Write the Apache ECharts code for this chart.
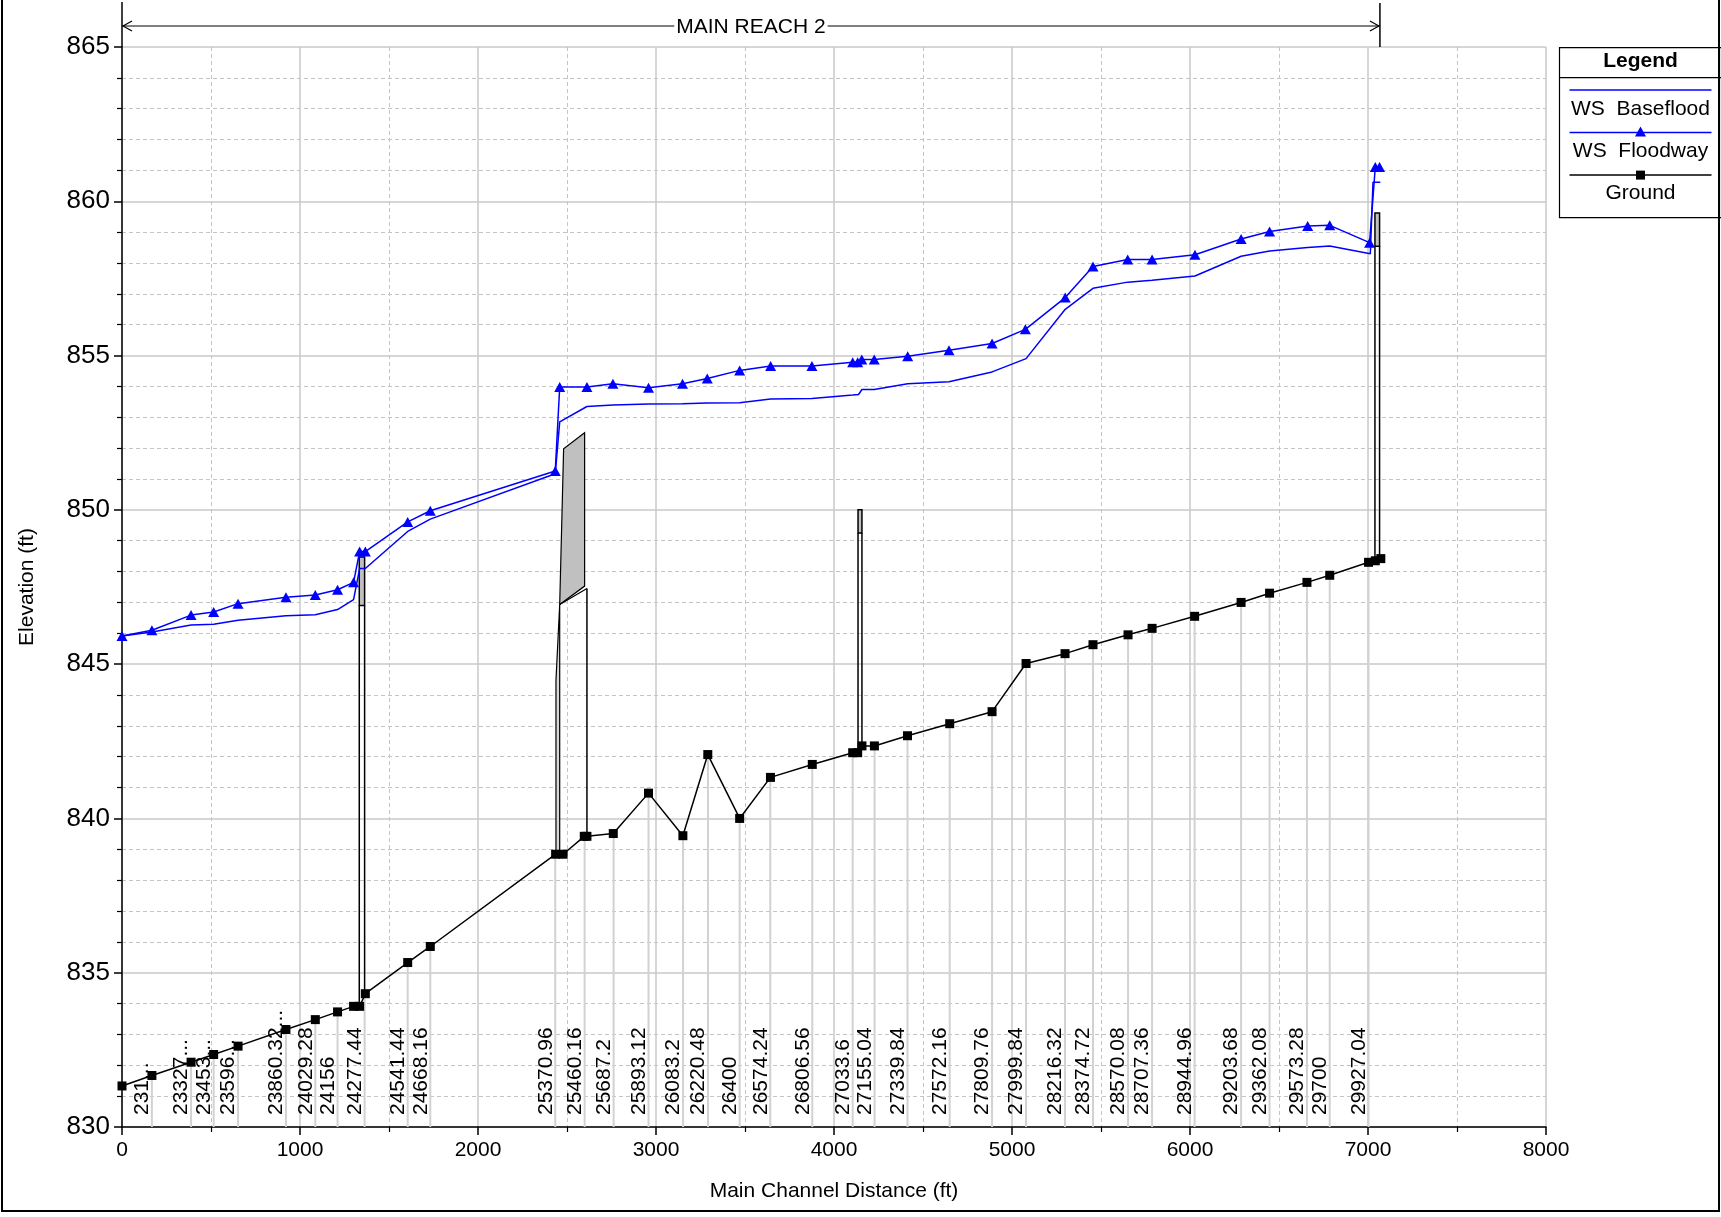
<!DOCTYPE html>
<html><head><meta charset="utf-8">
<script src="https://cdn.jsdelivr.net/npm/echarts@6/dist/echarts.min.js"></script>
<style>html,body{margin:0;padding:0;background:#fff}#c{width:1721px;height:1217px}</style>
</head><body><div id="c"></div>
<script>
const FONT = 'Liberation Sans, Arial, Helvetica, sans-serif';

// River stations (main channel distance, ft) and their labels
const stationX = [168, 388, 515, 652, 921, 1086, 1211, 1363, 1605, 1732, 2434, 2599, 2762, 2958, 3152, 3292, 3470, 3642, 3878, 4105, 4228, 4413, 4650, 4888, 5079, 5298, 5455, 5652, 5787, 6026, 6287, 6447, 6657, 6785, 7003];
const stationLabels = ['231...', '23327...', '23453...', '23596...', '23860.32...', '24029.28', '24156', '24277.44', '24541.44', '24668.16', '25370.96', '25460.16', '25687.2', '25893.12', '26083.2', '26220.48', '26400', '26574.24', '26806.56', '27033.6', '27155.04', '27339.84', '27572.16', '27809.76', '27999.84', '28216.32', '28374.72', '28570.08', '28707.36', '28944.96', '29203.68', '29362.08', '29573.28', '29700', '29927.04'];

// Ground
const groundX = [0, 168, 388, 515, 652, 921, 1086, 1211, 1301, 1335, 1367, 1605, 1732, 2436, 2478, 2597, 2612, 2760, 2958, 3151, 3291, 3470, 3643, 3878, 4105, 4133, 4157, 4227, 4413, 4650, 4888, 5079, 5298, 5455, 5652, 5787, 6026, 6287, 6447, 6657, 6785, 7003, 7041, 7072];
const groundY = [831.33, 831.67, 832.1, 832.35, 832.62, 833.16, 833.48, 833.73, 833.91, 833.91, 834.32, 835.33, 835.85, 838.84, 838.84, 839.42, 839.42, 839.51, 840.82, 839.44, 842.07, 840.0, 841.33, 841.75, 842.13, 842.13, 842.35, 842.35, 842.68, 843.07, 843.46, 845.02, 845.34, 845.63, 845.95, 846.16, 846.55, 847.0, 847.3, 847.65, 847.88, 848.3, 848.35, 848.42];

// WS Baseflood
const baseX = [0, 168, 388, 515, 652, 921, 1086, 1211, 1301, 1335, 1367, 1605, 1732, 2434, 2459, 2612, 2758, 2958, 3149, 3288, 3470, 3644, 3876, 4105, 4138, 4157, 4226, 4414, 4646, 4888, 5079, 5299, 5455, 5650, 5787, 6028, 6287, 6447, 6661, 6785, 7013, 7028, 7069];
const baseY = [845.91, 846.04, 846.27, 846.29, 846.42, 846.57, 846.6, 846.77, 847.09, 848.1, 848.1, 849.3, 849.7, 851.17, 852.85, 853.35, 853.4, 853.43, 853.44, 853.46, 853.47, 853.59, 853.61, 853.72, 853.74, 853.9, 853.9, 854.09, 854.15, 854.47, 854.9, 856.5, 857.18, 857.38, 857.44, 857.58, 858.22, 858.39, 858.5, 858.55, 858.3, 860.62, 860.62];

// WS Floodway
const floodX = [0, 168, 388, 515, 652, 921, 1086, 1211, 1301, 1335, 1367, 1605, 1732, 2434, 2459, 2612, 2758, 2958, 3149, 3288, 3470, 3644, 3876, 4105, 4133, 4156, 4226, 4414, 4646, 4888, 5075, 5299, 5455, 5650, 5787, 6028, 6287, 6447, 6661, 6785, 7009, 7041, 7065];
const floodY = [845.91, 846.1, 846.59, 846.69, 846.96, 847.17, 847.24, 847.41, 847.65, 848.65, 848.65, 849.61, 849.97, 851.26, 853.98, 853.98, 854.09, 853.96, 854.09, 854.26, 854.52, 854.66, 854.66, 854.78, 854.78, 854.87, 854.87, 854.98, 855.17, 855.39, 855.85, 856.88, 857.89, 858.11, 858.11, 858.27, 858.78, 859.02, 859.2, 859.22, 858.66, 861.11, 861.11];

// Structures: [xLeft, xRight, highChord, lowChord, groundLeft, groundRight]
const structBoxes = [
  [1333, 1363, 848.47, 846.9, 833.91, 834.3],
  [4135, 4157, 850.0, 849.25, 842.13, 842.35],
  [7039, 7065, 859.62, 858.54, 848.35, 848.4]
];
// Sloped deck structure
const deckPoly = [[2459, 846.93], [2481, 851.98], [2599, 852.5], [2599, 847.53]];
const deckLow = [[2459, 846.93], [2612, 847.45]];
const deckLeftWall = [[2438, 838.9], [2438, 844.47], [2459, 846.93], [2459, 838.9]];
const deckRightWall = [[2612, 847.45], [2612, 839.42]];

// Reach marker
const reachName = 'MAIN REACH 2';
const reachStart = 0, reachEnd = 7067;

const zip = (a, b) => a.map((v, i) => [v, b[i]]);
function groundAt(x) {
  for (let i = 0; i < groundX.length - 1; i++) {
    if (x >= groundX[i] && x <= groundX[i + 1]) {
      const t = (x - groundX[i]) / (groundX[i + 1] - groundX[i] || 1);
      return groundY[i] + t * (groundY[i + 1] - groundY[i]);
    }
  }
  return groundY[groundY.length - 1];
}

const chart = echarts.init(document.getElementById('c'), null, {renderer: 'canvas'});
const axisCommon = {
  axisLine: {show: true, onZero: false, lineStyle: {color: '#000', width: 1.5}},
  axisTick: {show: true, length: 8, lineStyle: {color: '#000', width: 1.5}},
  minorTick: {show: true, length: 5, lineStyle: {color: '#000', width: 1.2}},
  splitLine: {show: true, lineStyle: {color: '#c8c8c8', width: 1.5}},
  minorSplitLine: {show: true, lineStyle: {color: '#c4c4c4', width: 1, type: [4, 3]}},
  axisLabel: {color: '#000', fontSize: 21, fontFamily: FONT},
  nameTextStyle: {color: '#000', fontSize: 21, fontFamily: FONT}
};

const option = {
  animation: false,
  backgroundColor: '#fff',
  grid: {left: 122, top: 47, right: 175, bottom: 90, containLabel: false},
  xAxis: Object.assign({}, axisCommon, {
    type: 'value', min: 0, max: 8000, interval: 1000,
    minorTick: Object.assign({}, axisCommon.minorTick, {splitNumber: 2}),
    name: 'Main Channel Distance (ft)', nameLocation: 'middle', nameGap: 54,
    axisLabel: Object.assign({}, axisCommon.axisLabel, {margin: 13, formatter: v => String(v)})
  }),
  yAxis: Object.assign({}, axisCommon, {
    type: 'value', min: 830, max: 865, interval: 5,
    minorTick: Object.assign({}, axisCommon.minorTick, {splitNumber: 5}),
    name: 'Elevation (ft)', nameLocation: 'middle', nameGap: 84,
    axisLabel: Object.assign({}, axisCommon.axisLabel, {margin: 12, fontSize: 26, formatter: v => String(v)})
  }),
  series: [
    {
      type: 'custom', name: 'stations', z: 1, clip: false,
      data: stationX.map((x, i) => [x, i]),
      renderItem: function (params, api) {
        const x = api.value(0), i = api.value(1);
        const p0 = api.coord([x, 830]);
        const p1 = api.coord([x, groundAt(x)]);
        return {
          type: 'group',
          children: [
            {type: 'line', shape: {x1: p0[0], y1: p0[1], x2: p1[0], y2: p1[1]},
             style: {stroke: '#d2d2d2', lineWidth: 2}},
            {type: 'text', x: p0[0] + 1, y: p0[1] - 12, rotation: Math.PI / 2,
             style: {text: stationLabels[i], fill: '#000', fontSize: 21, fontFamily: FONT,
                     align: 'left', verticalAlign: 'bottom'}}
          ]
        };
      }
    },
    {
      type: 'custom', name: 'structures', z: 2, clip: false,
      data: structBoxes.map((b, i) => [b[0], i]),
      renderItem: function (params, api) {
        const b = structBoxes[api.value(1)];
        const tl = api.coord([b[0], b[2]]), br = api.coord([b[1], b[3]]);
        const gl = api.coord([b[0], b[4]]), gr = api.coord([b[1], b[5]]);
        return {
          type: 'group',
          children: [
            {type: 'line', shape: {x1: tl[0], y1: br[1], x2: gl[0], y2: gl[1]}, style: {stroke: '#000', lineWidth: 1.5}},
            {type: 'line', shape: {x1: br[0], y1: br[1], x2: gr[0], y2: gr[1]}, style: {stroke: '#000', lineWidth: 1.5}},
            {type: 'rect', shape: {x: tl[0], y: tl[1], width: br[0] - tl[0], height: br[1] - tl[1]},
             style: {fill: '#c0c0c0', stroke: '#000', lineWidth: 1.5}}
          ]
        };
      }
    },
    {
      type: 'custom', name: 'deck', z: 2, clip: false,
      data: [[deckPoly[0][0], 0]],
      renderItem: function (params, api) {
        const c = p => api.coord(p);
        return {
          type: 'group',
          children: [
            {type: 'polygon', shape: {points: deckLeftWall.map(c)}, style: {fill: '#d8d8d8', stroke: '#000', lineWidth: 1.2}},
            {type: 'polyline', shape: {points: deckRightWall.map(c)}, style: {stroke: '#000', lineWidth: 1.5, fill: null}},
            {type: 'polygon', shape: {points: deckPoly.map(c)}, style: {fill: '#c0c0c0', stroke: '#000', lineWidth: 1.2}},
            {type: 'polyline', shape: {points: deckLow.map(c)}, style: {stroke: '#000', lineWidth: 1.2, fill: null}}
          ]
        };
      }
    },
    {
      type: 'line', name: 'WS  Baseflood', z: 3, symbol: 'none',
      data: zip(baseX, baseY),
      lineStyle: {color: '#0000ff', width: 1.5}, itemStyle: {color: '#0000ff'}
    },
    {
      type: 'line', name: 'WS  Floodway', z: 4, symbol: 'triangle', symbolSize: [11, 10],
      data: zip(floodX, floodY),
      lineStyle: {color: '#0000ff', width: 1.5}, itemStyle: {color: '#0000ff'}
    },
    {
      type: 'line', name: 'Ground', z: 5, symbol: 'rect', symbolSize: 9,
      data: zip(groundX, groundY),
      lineStyle: {color: '#000', width: 1.5}, itemStyle: {color: '#000'}
    },
    {
      type: 'custom', name: 'reach', z: 6, clip: false,
      data: [[reachStart, reachEnd]],
      renderItem: function (params, api) {
        const a = api.coord([api.value(0), 865]), b = api.coord([api.value(1), 865]);
        const y = 26;
        return {
          type: 'group',
          children: [
            {type: 'line', shape: {x1: a[0], y1: y, x2: b[0], y2: y}, style: {stroke: '#000', lineWidth: 1.2}},
            {type: 'line', shape: {x1: a[0], y1: 2, x2: a[0], y2: a[1]}, style: {stroke: '#000', lineWidth: 1.5}},
            {type: 'line', shape: {x1: b[0], y1: 3, x2: b[0], y2: a[1]}, style: {stroke: '#000', lineWidth: 1.5}},
            {type: 'polyline', shape: {points: [[a[0] + 10, y - 5], [a[0] + 1, y], [a[0] + 10, y + 5]]}, style: {stroke: '#000', lineWidth: 1.2, fill: null}},
            {type: 'polyline', shape: {points: [[b[0] - 10, y - 5], [b[0] - 1, y], [b[0] - 10, y + 5]]}, style: {stroke: '#000', lineWidth: 1.2, fill: null}},
            {type: 'text', x: (a[0] + b[0]) / 2, y: y + 1,
             style: {text: reachName, fill: '#000', fontSize: 21, fontFamily: FONT, align: 'center', verticalAlign: 'middle',
                     backgroundColor: '#fff', padding: [0, 2]}}
          ]
        };
      }
    }
  ],
  graphic: [
    {type: 'rect', shape: {x: 2, y: -10, width: 1717, height: 1221}, style: {fill: null, stroke: '#000', lineWidth: 2}, z: 100},
    {type: 'group', left: 1557, top: 47, z: 100, children: [
      {type: 'rect', shape: {x: 0, y: 0, width: 162, height: 170}, style: {fill: '#fff', stroke: '#000', lineWidth: 1.2}},
      {type: 'text', x: 81, y: 14, style: {text: 'Legend', fontSize: 21, fontWeight: 'bold', fontFamily: FONT, fill: '#000', align: 'center', verticalAlign: 'middle'}},
      {type: 'line', shape: {x1: 0, y1: 30, x2: 162, y2: 30}, style: {stroke: '#000', lineWidth: 1.2}},
      {type: 'line', shape: {x1: 10, y1: 42.5, x2: 152, y2: 42.5}, style: {stroke: '#0000ff', lineWidth: 1.5}},
      {type: 'text', x: 81, y: 61.5, style: {text: 'WS  Baseflood', fontSize: 21, fontFamily: FONT, fill: '#000', align: 'center', verticalAlign: 'middle'}},
      {type: 'line', shape: {x1: 10, y1: 85, x2: 152, y2: 85}, style: {stroke: '#0000ff', lineWidth: 1.5}},
      {type: 'polygon', shape: {points: [[81, 79], [75.5, 89], [86.5, 89]]}, style: {fill: '#0000ff'}},
      {type: 'text', x: 81, y: 103.5, style: {text: 'WS  Floodway', fontSize: 21, fontFamily: FONT, fill: '#000', align: 'center', verticalAlign: 'middle'}},
      {type: 'line', shape: {x1: 10, y1: 127.5, x2: 152, y2: 127.5}, style: {stroke: '#000', lineWidth: 1.5}},
      {type: 'rect', shape: {x: 76.5, y: 123, width: 9, height: 9}, style: {fill: '#000'}},
      {type: 'text', x: 81, y: 146, style: {text: 'Ground', fontSize: 21, fontFamily: FONT, fill: '#000', align: 'center', verticalAlign: 'middle'}}
    ]}
  ]
};
chart.setOption(option);
</script>
</body></html>
